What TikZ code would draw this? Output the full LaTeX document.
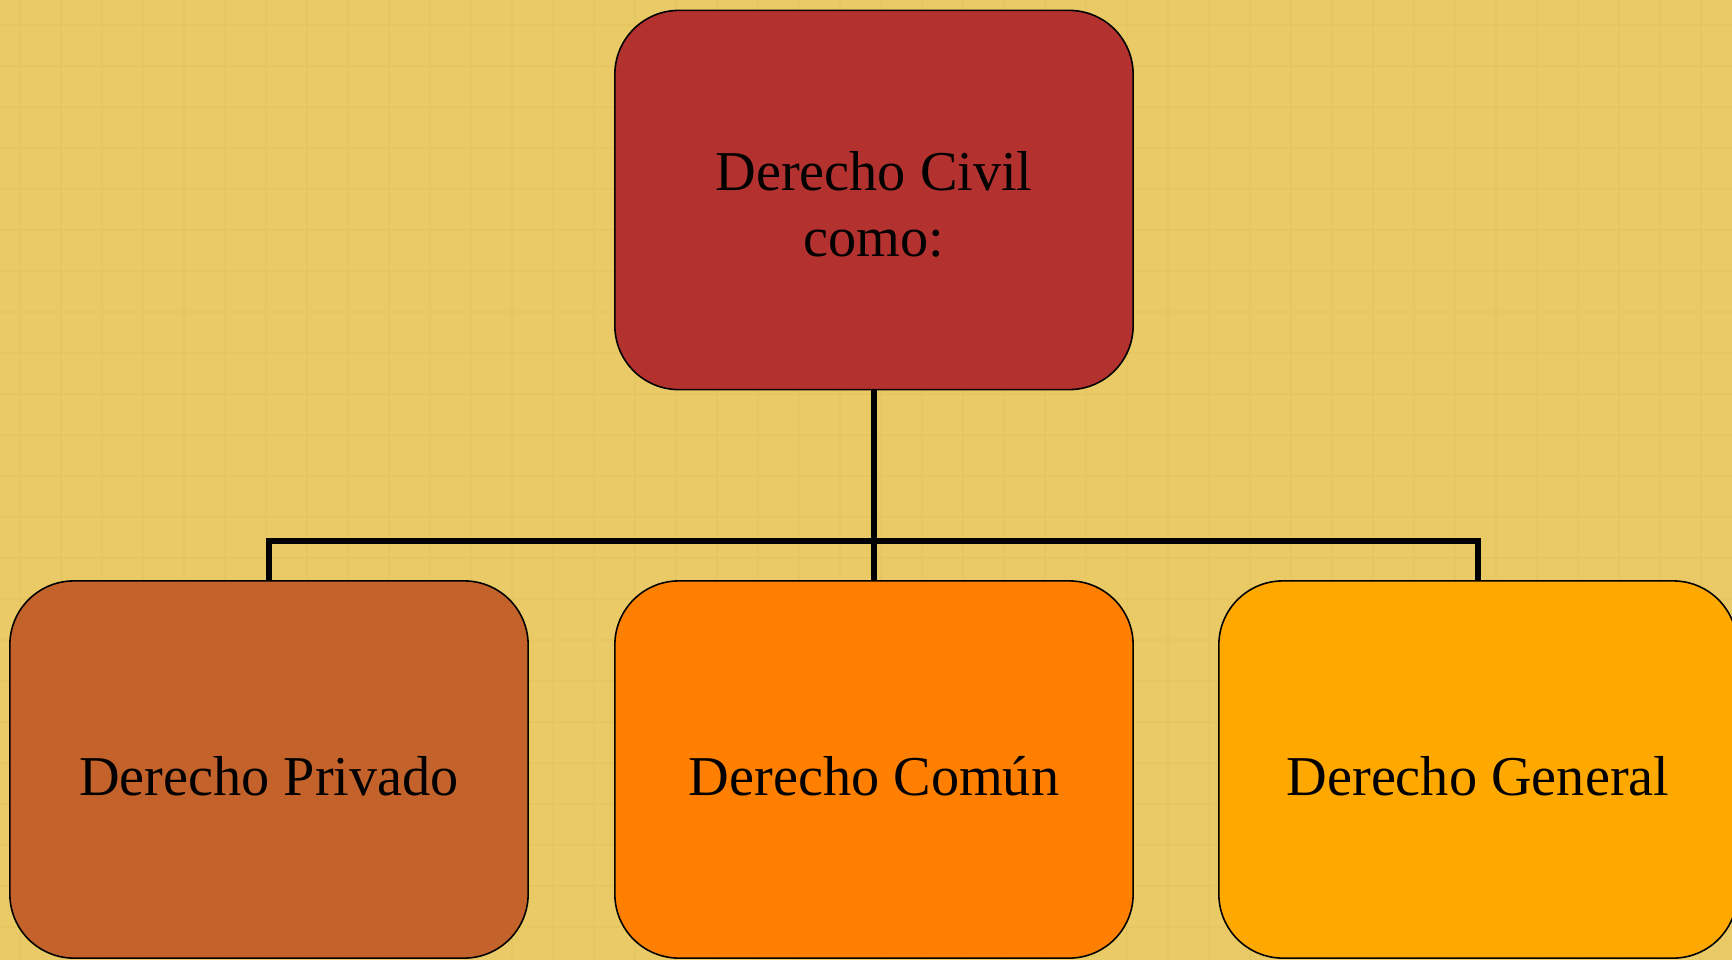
\documentclass[tikz,border=0pt]{standalone}
\usepackage{fontspec}
\setmainfont{Liberation Serif}
\usetikzlibrary{positioning}
\definecolor{paper}{HTML}{E9CA67}
\definecolor{paperline}{HTML}{E6C661}
\definecolor{civilred}{HTML}{B3322F}
\definecolor{privbrown}{HTML}{C4622B}
\definecolor{comunorange}{HTML}{FF7F00}
\definecolor{genamber}{HTML}{FFA800}
\tikzset{
  grid line/.style={paperline,line width=0.6pt},
  box/.style={draw=black,line width=0.45pt,rounded corners=0.64cm,
    minimum width=5.18cm,inner sep=0pt,
    font=\fontsize{16}{18.5}\selectfont},
  root/.style={box,minimum height=3.79cm,align=center},
  leaf/.style={box,minimum height=3.77cm,text height=14.5pt,text depth=0pt},
  tree line/.style={black,line width=1.7pt},
}

\begin{document}
\begin{tikzpicture}[x=0.01cm,y=-0.01cm]
  \useasboundingbox (0,0) rectangle (1732,960);
  \fill[paper] (0,0) rectangle (1732,960);

  % PAPER GRID
  \foreach \gx in {20,61,...,1732}
    \draw[grid line] (\gx,0) -- (\gx,960);
  \foreach \gy in {25,66,...,960}
    \draw[grid line] (0,\gy) -- (1732,\gy);

  % BOXES
  \node[root,fill=civilred] (civil) at (874,200)
      {\rule{0pt}{0.85em}Derecho Civil\\como:};
  \node[leaf,fill=privbrown] (privado) at (269,769.5) {Derecho Privado};
  \node[leaf,fill=comunorange] (comun) at (874,769.5) {Derecho Común};
  \node[leaf,fill=genamber] (general) at (1478,769.5) {Derecho General};

  % TREE
  \coordinate (split) at (874,541);
  \draw[tree line] (civil.south) -- (split) -| (privado.north);
  \draw[tree line] (split) -| (general.north);
  \draw[tree line] (split) -- (comun.north);
\end{tikzpicture}
\end{document}
